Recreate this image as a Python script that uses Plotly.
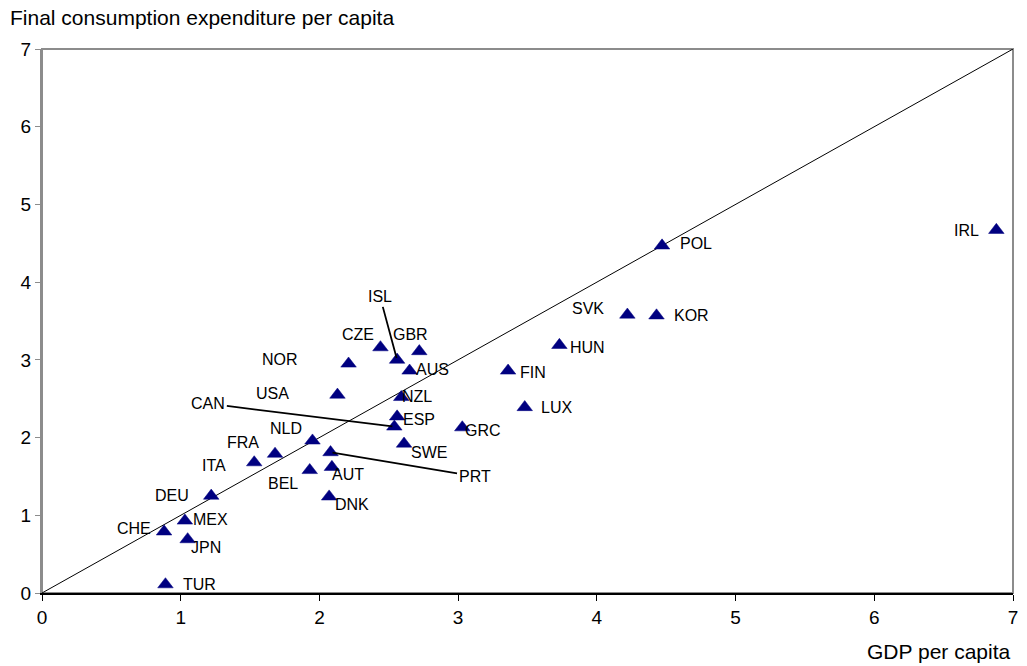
import plotly.graph_objects as go

countries = ["IRL", "POL", "SVK", "KOR", "HUN", "FIN", "LUX", "GRC", "ISL", "CZE", "GBR", "NOR",
             "AUS", "USA", "NZL", "ESP", "CAN", "NLD", "SWE", "FRA", "PRT", "ITA", "AUT", "BEL",
             "DNK", "DEU", "MEX", "CHE", "JPN", "TUR"]
gdp_pc = [6.88, 4.47, 4.22, 4.43, 3.73, 3.36, 3.48, 3.03, 2.56, 2.44, 2.72, 2.21,
          2.65, 2.13, 2.59, 2.56, 2.54, 1.95, 2.61, 1.68, 2.08, 1.53, 2.09, 1.93,
          2.07, 1.22, 1.03, 0.88, 1.05, 0.89]
cons_pc = [4.67, 4.47, 3.58, 3.57, 3.19, 2.86, 2.39, 2.13, 3.00, 3.16, 3.11, 2.95,
           2.86, 2.55, 2.52, 2.27, 2.14, 1.96, 1.92, 1.79, 1.81, 1.68, 1.62, 1.58,
           1.24, 1.25, 0.93, 0.79, 0.69, 0.11]
ticks = [0, 1, 2, 3, 4, 5, 6, 7]

# label offsets in pixels (dx, dy with dy downward) and whether a leader line is used
label_offsets = {
    "IRL": (-30, 0, False), "POL": (34, -2, False), "SVK": (-39, -6, False),
    "KOR": (35, 0, False), "HUN": (28, 2, False), "FIN": (25, 2, False),
    "LUX": (32, 0, False), "GRC": (21, 3, False), "ISL": (-17, -63, True),
    "CZE": (-22, -13, False), "GBR": (-9, -17, False), "NOR": (-69, -4, False),
    "AUS": (23, -1, False), "USA": (-65, -1, False), "NZL": (16, -1, False),
    "ESP": (22, 3, False), "CAN": (-186, -23, True), "NLD": (-26, -12, False),
    "SWE": (25, 9, False), "FRA": (-32, -11, False), "PRT": (144, 24, True),
    "ITA": (-40, 3, False), "AUT": (16, 7, False), "BEL": (-27, 13, False),
    "DNK": (23, 8, False), "DEU": (-39, 0, False), "MEX": (26, -1, False),
    "CHE": (-30, -3, False), "JPN": (18, 8, False), "TUR": (34, 0, False),
}

FONT = "Liberation Sans, Arial, sans-serif"

fig = go.Figure()
fig.add_trace(go.Scatter(x=[ticks[0], ticks[-1]], y=[ticks[0], ticks[-1]], mode="lines",
                         line=dict(color="black", width=1), hoverinfo="skip", showlegend=False))
fig.add_trace(go.Scatter(x=gdp_pc, y=cons_pc, mode="markers", text=countries,
                         marker=dict(symbol="triangle-up", size=13.5, color="#000080",
                                     line=dict(width=0.5, color="#000080")),
                         showlegend=False))

annotations = []
for c, xv, yv in zip(countries, gdp_pc, cons_pc):
    dx, dy, line = label_offsets[c]
    if line:
        annotations.append(dict(x=xv, y=yv, xref="x", yref="y", text=c, showarrow=True,
                                arrowhead=0, arrowwidth=1.8, arrowcolor="black",
                                ax=dx, ay=dy, standoff=2,
                                font=dict(family=FONT, size=16, color="black")))
    else:
        annotations.append(dict(x=xv, y=yv, xref="x", yref="y", text=c, showarrow=False,
                                xshift=dx, yshift=-dy,
                                font=dict(family=FONT, size=16, color="black")))

annotations.append(dict(x=1, y=-0.108, xref="paper", yref="paper", text="GDP per capita",
                        showarrow=False, xanchor="right", yanchor="middle",
                        font=dict(family=FONT, size=21, color="black")))
annotations.append(dict(x=-0.035, y=1.057, xref="paper", yref="paper",
                        text="Final consumption expenditure per capita",
                        showarrow=False, xanchor="left", yanchor="middle",
                        font=dict(family=FONT, size=21, color="black")))

fig.update_layout(
    width=1027, height=666,
    margin=dict(l=42, r=14, t=49, b=73),
    paper_bgcolor="white", plot_bgcolor="white",
    annotations=annotations,
    shapes=[dict(type="rect", xref="paper", yref="paper", x0=0, y0=0, x1=1, y1=1,
                 line=dict(color="#8c8c8c", width=2), layer="below")],
    xaxis=dict(range=[0, 7], tickvals=ticks, showgrid=False, zeroline=False,
               showline=True, linecolor="black", linewidth=1.5, automargin=False,
               ticks="outside", ticklen=6, tickcolor="black",
               tickfont=dict(family=FONT, size=19, color="black")),
    yaxis=dict(range=[0, 7], tickvals=ticks, showgrid=False, zeroline=False,
               showline=True, linecolor="#8c8c8c", linewidth=2, automargin=False,
               ticks="outside", ticklen=5, tickcolor="#8c8c8c",
               tickfont=dict(family=FONT, size=19, color="black")),
)

fig.write_html("out.html", config={"displayModeBar": False},
               post_script="document.body.style.margin='0';document.body.style.overflow='hidden';")
